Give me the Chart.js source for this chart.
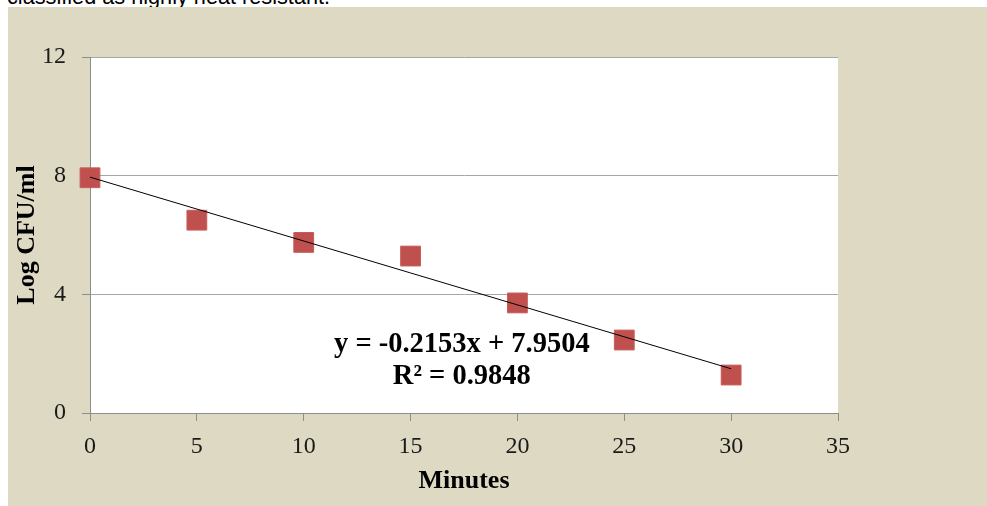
<!DOCTYPE html>
<html>
<head>
<meta charset="utf-8">
<script src="https://cdn.jsdelivr.net/npm/chart.js@4.4.1/dist/chart.umd.min.js"></script>
<style>
    html, body {
        margin: 0;
        padding: 0;
        background: #ffffff;
        width: 987px;
        height: 506px;
        overflow: hidden;
    }
    #pageText {
        position: absolute;
        left: 7px;
        top: -14px;
        font: 21.7px/21.7px "Liberation Sans", Arial, sans-serif;
        color: #000;
        white-space: nowrap;
    }
    #panel {
        position: absolute;
        left: 8px;
        top: 7px;
        right: 0;
        bottom: 0;
        background: #ddd9c3;
    }
    #chart {
        position: absolute;
        left: 0;
        top: 0;
    }
</style>
</head>
<body>
<div id="pageText">classified as highly heat resistant.</div>
<div id="panel"></div>
<canvas id="chart" width="987" height="506"></canvas>
<script>
    // survival readings
    const minutes = [0, 5, 10, 15, 20, 25, 30];
    const logCfu = [7.93, 6.50, 5.75, 5.29, 3.71, 2.46, 1.28];

    // linear trendline end points (from the fitted equation)
    const trendMinutes = [0, 30];
    const trendLogCfu = [7.9504, 1.4914];

    const xTicks = [0, 5, 10, 15, 20, 25, 30, 35];
    const yTicks = [0, 4, 8, 12];

    const equationLines = ['y = -0.2153x + 7.9504', 'R\u00b2 = 0.9848'];

    const serif = '"Liberation Serif", "Times New Roman", serif';

    // white plot area on the tan panel
    const plotBackground = {
        id: 'plotBackground',
        beforeDraw(chart) {
            const { ctx, chartArea } = chart;
            ctx.save();
            ctx.fillStyle = '#ffffff';
            ctx.fillRect(chartArea.left, chartArea.top, chartArea.width, chartArea.height);
            ctx.restore();
        },
    };

    const equationLabel = {
        id: 'equationLabel',
        afterDatasetsDraw(chart, args, opts) {
            const { ctx, scales } = chart;
            const x = scales.x.getPixelForValue(opts.atX);
            ctx.save();
            ctx.fillStyle = '#000';
            ctx.font = 'bold 28.5px ' + serif;
            ctx.textAlign = 'center';
            ctx.textBaseline = 'middle';
            equationLines.forEach((line, i) => {
                const y = scales.y.getPixelForValue(opts.atY[i]);
                ctx.fillText(line, x, y);
            });
            ctx.restore();
        },
    };

    new Chart(document.getElementById('chart'), {
        type: 'scatter',
        data: {
            datasets: [
                {
                    label: 'Linear',
                    data: trendMinutes.map((m, i) => ({ x: m, y: trendLogCfu[i] })),
                    showLine: true,
                    borderColor: '#000000',
                    borderWidth: 1,
                    pointRadius: 0,
                },
                {
                    label: 'Log CFU/ml',
                    data: minutes.map((m, i) => ({ x: m, y: logCfu[i] })),
                    pointStyle: 'rect',
                    pointRadius: 14,
                    backgroundColor: '#c0504d',
                    borderColor: '#c65c59',
                    borderWidth: 1,
                    clip: false,
                },
            ],
        },
        options: {
            responsive: false,
            animation: false,
            layout: {
                padding: { left: 0, top: 57, right: 149, bottom: 0 },
            },
            plugins: {
                legend: { display: false },
                tooltip: { enabled: false },
                equationLabel: { atX: 17.4, atY: [2.3, 1.22] },
            },
            scales: {
                x: {
                    type: 'linear',
                    min: 0,
                    max: 35,
                    afterBuildTicks: (scale) => {
                        scale.ticks = xTicks.map((v) => ({ value: v }));
                    },
                    afterFit: (scale) => {
                        scale.height = 93;
                    },
                    ticks: {
                        color: '#1a1a1a',
                        font: { family: serif, size: 24 },
                        padding: 11,
                        maxRotation: 0,
                    },
                    grid: {
                        drawOnChartArea: false,
                        drawTicks: true,
                        tickLength: 8,
                        color: '#8c8c8c',
                    },
                    border: { color: '#8c8c8c' },
                    title: {
                        display: true,
                        text: 'Minutes',
                        color: '#000',
                        font: { family: serif, size: 26, weight: 'bold' },
                        padding: { top: 0, bottom: 9 },
                    },
                },
                y: {
                    type: 'linear',
                    min: 0,
                    max: 12,
                    afterBuildTicks: (scale) => {
                        scale.ticks = yTicks.map((v) => ({ value: v }));
                    },
                    afterFit: (scale) => {
                        scale.width = 90;
                    },
                    ticks: {
                        color: '#1a1a1a',
                        font: { family: serif, size: 24 },
                        padding: 16,
                    },
                    grid: {
                        color: '#a6a6a6',
                        tickColor: '#8c8c8c',
                        tickLength: 8,
                    },
                    border: { color: '#8c8c8c' },
                    title: {
                        display: true,
                        text: 'Log CFU/ml',
                        color: '#000',
                        font: { family: serif, size: 26, weight: 'bold' },
                        padding: { top: 12, bottom: 0 },
                    },
                },
            },
        },
        plugins: [plotBackground, equationLabel],
    });
</script>
</body>
</html>
